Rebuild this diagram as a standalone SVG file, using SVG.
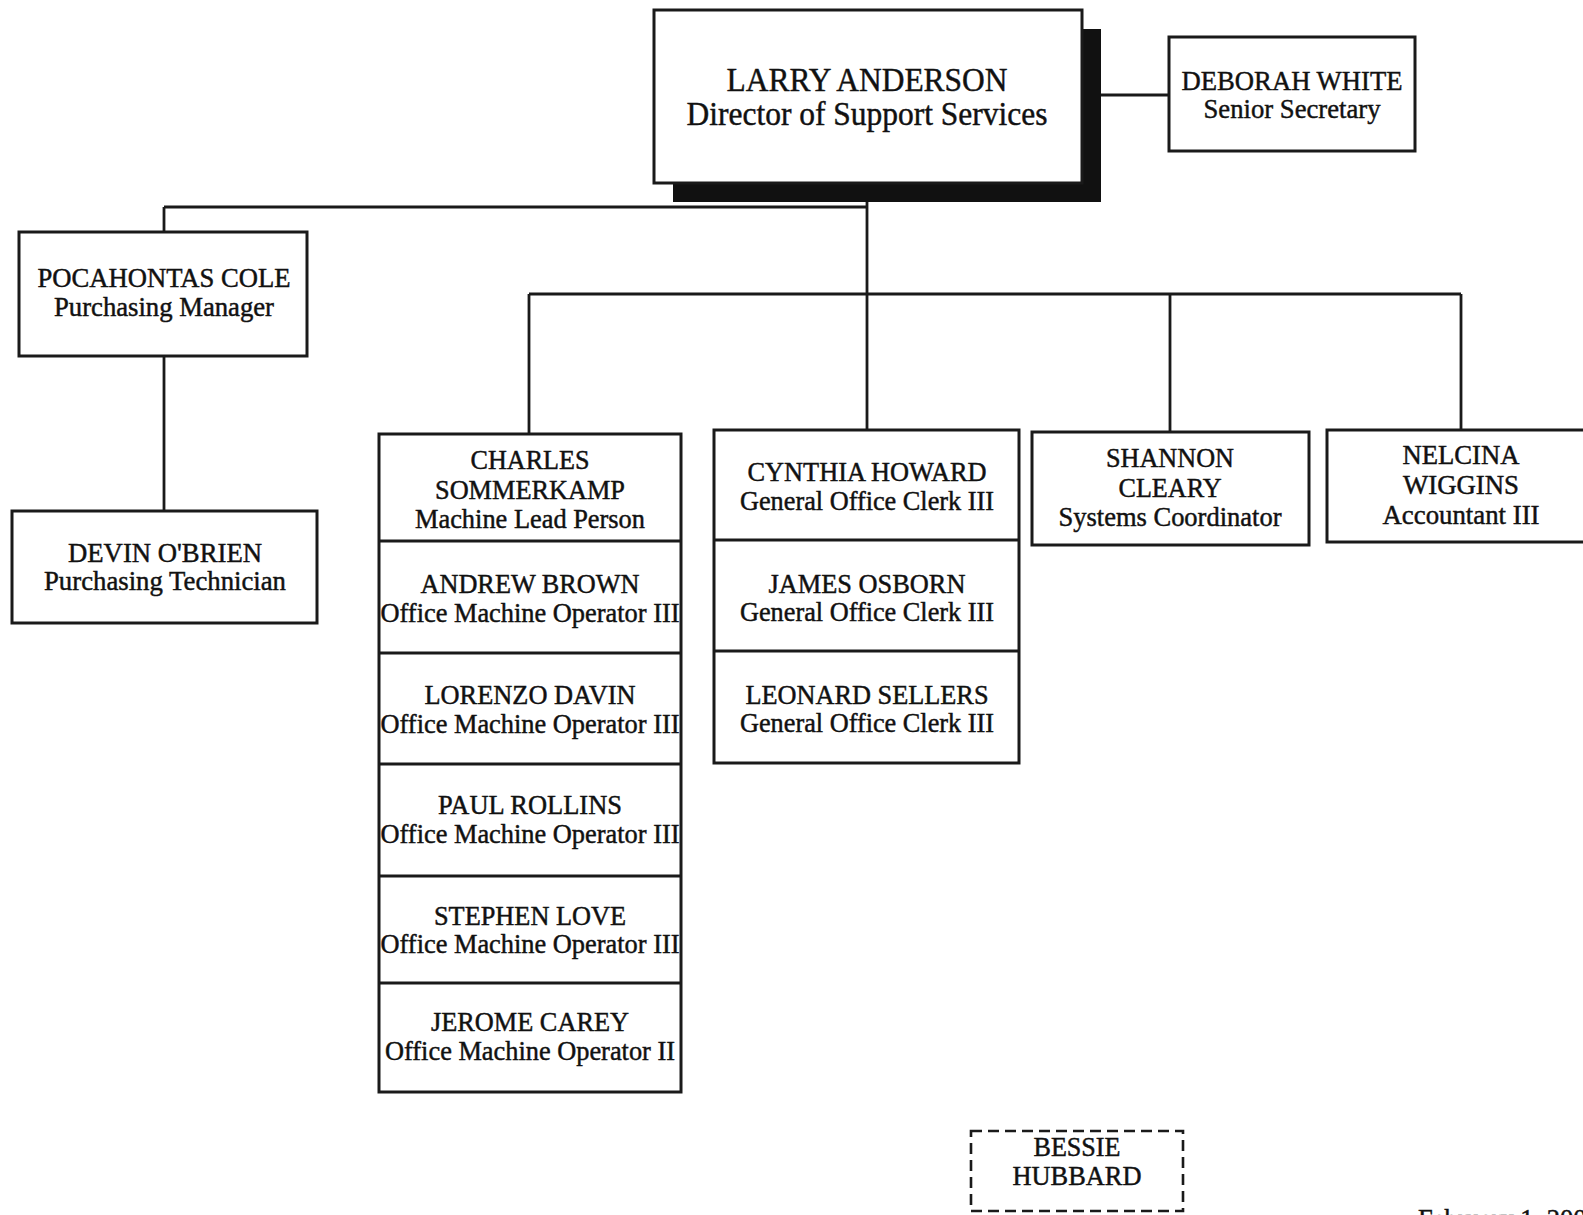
<svg xmlns="http://www.w3.org/2000/svg" width="1583" height="1215" viewBox="0 0 1583 1215">
<style>
.bg{fill:#ffffff}
.box{fill:#ffffff;stroke:#1a1a1a;stroke-width:3}
.div{stroke:#1a1a1a;stroke-width:3;fill:none}
.dash{fill:#ffffff;stroke:#1a1a1a;stroke-width:2.6;stroke-dasharray:11 6}
.shadow{fill:#111111}
.con{stroke:#1a1a1a;stroke-width:2.8;fill:none}
text{font-family:"Liberation Serif","Times New Roman",serif;fill:#111111;stroke:#111111;stroke-width:0.45;text-anchor:middle}
.t{font-size:26.5px}
.d{font-size:28px}
.l{font-size:34px}
</style>
<rect class="bg" x="0" y="0" width="1583" height="1215"/>
<g id="connectors">
<path class="con" d="M1101 95 H1169"/>
<path class="con" d="M867 202 V430"/>
<path class="con" d="M164 207 H867"/>
<path class="con" d="M164 207 V232"/>
<path class="con" d="M164 356 V511"/>
<path class="con" d="M529 294 H1461"/>
<path class="con" d="M529 294 V434"/>
<path class="con" d="M1170 294 V432"/>
<path class="con" d="M1461 294 V430"/>
</g>
<g id="larry">
<rect class="shadow" x="673" y="29" width="428" height="173"/>
<rect class="box" x="654" y="10" width="428" height="173"/>
<text class="l" x="867" y="91" textLength="281" lengthAdjust="spacingAndGlyphs">LARRY ANDERSON</text>
<text class="l" x="867" y="125" textLength="361" lengthAdjust="spacingAndGlyphs">Director of Support Services</text>
</g>
<g id="deborah">
<rect class="box" x="1169" y="37" width="246" height="114"/>
<text class="d" x="1292" y="90" textLength="221" lengthAdjust="spacingAndGlyphs">DEBORAH WHITE</text>
<text class="d" x="1292" y="118" textLength="177" lengthAdjust="spacingAndGlyphs">Senior Secretary</text>
</g>
<g id="pocahontas">
<rect class="box" x="19" y="232" width="288" height="124"/>
<text class="t" x="164" y="287" textLength="253" lengthAdjust="spacingAndGlyphs">POCAHONTAS COLE</text>
<text class="t" x="164" y="316" textLength="220" lengthAdjust="spacingAndGlyphs">Purchasing Manager</text>
</g>
<g id="devin">
<rect class="box" x="12" y="511" width="305" height="112"/>
<text class="t" x="165" y="562" textLength="194" lengthAdjust="spacingAndGlyphs">DEVIN O'BRIEN</text>
<text class="t" x="165" y="590" textLength="242" lengthAdjust="spacingAndGlyphs">Purchasing Technician</text>
</g>
<g id="charles-column">
<rect class="box" x="379" y="434" width="302" height="658"/>
<path class="div" d="M379 541 H681 M379 653 H681 M379 764 H681 M379 876 H681 M379 983 H681"/>
</g>
<g id="charles">
<text class="t" x="530" y="469" textLength="119" lengthAdjust="spacingAndGlyphs">CHARLES</text>
<text class="t" x="530" y="499" textLength="190" lengthAdjust="spacingAndGlyphs">SOMMERKAMP</text>
<text class="t" x="530" y="528" textLength="230" lengthAdjust="spacingAndGlyphs">Machine Lead Person</text>
</g>
<g id="andrew">
<text class="t" x="530" y="593" textLength="219" lengthAdjust="spacingAndGlyphs">ANDREW BROWN</text>
<text class="t" x="530" y="622" textLength="299" lengthAdjust="spacingAndGlyphs">Office Machine Operator III</text>
</g>
<g id="lorenzo">
<text class="t" x="530" y="704" textLength="211" lengthAdjust="spacingAndGlyphs">LORENZO DAVIN</text>
<text class="t" x="530" y="733" textLength="299" lengthAdjust="spacingAndGlyphs">Office Machine Operator III</text>
</g>
<g id="paul">
<text class="t" x="530" y="814" textLength="184" lengthAdjust="spacingAndGlyphs">PAUL ROLLINS</text>
<text class="t" x="530" y="843" textLength="299" lengthAdjust="spacingAndGlyphs">Office Machine Operator III</text>
</g>
<g id="stephen">
<text class="t" x="530" y="925" textLength="192" lengthAdjust="spacingAndGlyphs">STEPHEN LOVE</text>
<text class="t" x="530" y="953" textLength="299" lengthAdjust="spacingAndGlyphs">Office Machine Operator III</text>
</g>
<g id="jerome">
<text class="t" x="530" y="1031" textLength="198" lengthAdjust="spacingAndGlyphs">JEROME CAREY</text>
<text class="t" x="530" y="1060" textLength="290" lengthAdjust="spacingAndGlyphs">Office Machine Operator II</text>
</g>
<g id="cynthia-column">
<rect class="box" x="714" y="430" width="305" height="333"/>
<path class="div" d="M714 540 H1019 M714 651 H1019"/>
</g>
<g id="cynthia">
<text class="t" x="867" y="481" textLength="239" lengthAdjust="spacingAndGlyphs">CYNTHIA HOWARD</text>
<text class="t" x="867" y="510" textLength="254" lengthAdjust="spacingAndGlyphs">General Office Clerk III</text>
</g>
<g id="james">
<text class="t" x="867" y="593" textLength="197" lengthAdjust="spacingAndGlyphs">JAMES OSBORN</text>
<text class="t" x="867" y="621" textLength="254" lengthAdjust="spacingAndGlyphs">General Office Clerk III</text>
</g>
<g id="leonard">
<text class="t" x="867" y="704" textLength="243" lengthAdjust="spacingAndGlyphs">LEONARD SELLERS</text>
<text class="t" x="867" y="732" textLength="254" lengthAdjust="spacingAndGlyphs">General Office Clerk III</text>
</g>
<g id="shannon">
<rect class="box" x="1032" y="432" width="277" height="113"/>
<text class="t" x="1170" y="467" textLength="128" lengthAdjust="spacingAndGlyphs">SHANNON</text>
<text class="t" x="1170" y="497" textLength="103" lengthAdjust="spacingAndGlyphs">CLEARY</text>
<text class="t" x="1170" y="526" textLength="223" lengthAdjust="spacingAndGlyphs">Systems Coordinator</text>
</g>
<g id="nelcina">
<rect class="box" x="1327" y="430" width="280" height="112"/>
<text class="t" x="1461" y="464" textLength="117" lengthAdjust="spacingAndGlyphs">NELCINA</text>
<text class="t" x="1461" y="494" textLength="116" lengthAdjust="spacingAndGlyphs">WIGGINS</text>
<text class="t" x="1461" y="524" textLength="157" lengthAdjust="spacingAndGlyphs">Accountant III</text>
</g>
<g id="bessie">
<rect class="dash" x="971" y="1131" width="212" height="80"/>
<text class="t" x="1077" y="1156" textLength="87" lengthAdjust="spacingAndGlyphs">BESSIE</text>
<text class="t" x="1077" y="1185" textLength="129" lengthAdjust="spacingAndGlyphs">HUBBARD</text>
</g>
<g id="date">
<text class="t" x="1418" y="1228" style="text-anchor:start">February 1, 200</text>
</g>
</svg>
